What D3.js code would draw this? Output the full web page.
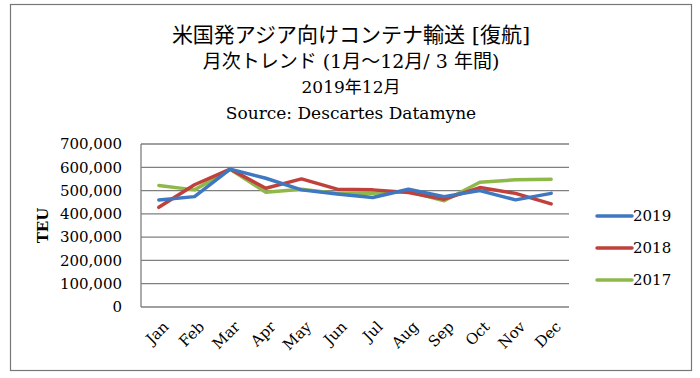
<!DOCTYPE html>
<html>
<head>
  <meta charset="utf-8">
  <style>
    body { margin: 0; background: #fff; }
    text { font-family: "DejaVu Serif", "Noto Sans CJK JP", serif; fill: #000; }
  </style>
</head>
<body>
  <script src="https://d3js.org/d3.v7.min.js"></script>
  <script>
    const months = ['Jan','Feb','Mar','Apr','May','Jun','Jul','Aug','Sep','Oct','Nov','Dec'];
    const yearNames = ['2019', '2018', '2017'];
    const v2019 = [460000, 474000, 592000, 553000, 503000, 485000, 470000, 506000, 474000, 500000, 460000, 488000];
    const v2018 = [428000, 525000, 592000, 510000, 550000, 506000, 503000, 492000, 463000, 513000, 488000, 443000];
    const v2017 = [522000, 503000, 591000, 493000, 506000, 488000, 488000, 496000, 456000, 536000, 546000, 549000];
    const yTicks = [0, 100000, 200000, 300000, 400000, 500000, 600000, 700000];
    const titleLines = ['米国発アジア向けコンテナ輸送 [復航]', '月次トレンド (1月～12月/ 3 年間)', '2019年12月', 'Source: Descartes Datamyne'];

    const series = [
      { name: yearNames[0], values: v2019, color: '#3f77c0' },
      { name: yearNames[1], values: v2018, color: '#c0413c' },
      { name: yearNames[2], values: v2017, color: '#8fb84a' }
    ];

    const width = 700, height = 378;
    const svg = d3.select('body').append('svg')
      .attr('width', width)
      .attr('height', height);

    // outer frame
    svg.append('rect')
      .attr('x', 10.5).attr('y', 4.5)
      .attr('width', 681).attr('height', 366)
      .attr('fill', 'none').attr('stroke', '#777').attr('stroke-width', 1.2);

    // title (Japanese glyphs fall back to the CJK font)
    const titleSizes = [21, 19, 17, 17];
    svg.selectAll('.title')
      .data(titleLines)
      .enter().append('text')
      .attr('x', 351)
      .attr('y', function(d, i) { return 42 + i * 25.7; })
      .attr('text-anchor', 'middle')
      .style('font-size', function(d, i) { return titleSizes[i] + 'px'; })
      .text(function(d) { return d; });

    const plot = { left: 141, right: 569, top: 144, bottom: 307 };

    const x = d3.scaleBand()
      .domain(months)
      .range([plot.left, plot.right]);

    const y = d3.scaleLinear()
      .domain([0, 700000])
      .range([plot.bottom, plot.top]);

    // gridlines
    svg.selectAll('.grid')
      .data(yTicks)
      .enter().append('line')
      .attr('x1', plot.left).attr('x2', plot.right)
      .attr('y1', function(d) { return y(d); })
      .attr('y2', function(d) { return y(d); })
      .attr('stroke', '#7f7f7f')
      .attr('stroke-width', 1.3);

    svg.append('line')
      .attr('x1', plot.left).attr('x2', plot.left)
      .attr('y1', plot.top).attr('y2', plot.bottom)
      .attr('stroke', '#7f7f7f').attr('stroke-width', 1.3);

    // y axis labels
    const fmt = d3.format(',');
    svg.selectAll('.ytick')
      .data(yTicks)
      .enter().append('text')
      .attr('x', 122)
      .attr('y', function(d) { return y(d); })
      .attr('dy', '0.35em')
      .attr('text-anchor', 'end')
      .style('font-size', '15px')
      .text(function(d) { return fmt(d); });

    svg.append('text')
      .attr('transform', 'translate(48,' + ((plot.top + plot.bottom) / 2) + ') rotate(-90)')
      .attr('text-anchor', 'middle')
      .style('font-size', '15px')
      .style('font-weight', 'bold')
      .text('TEU');

    // x axis labels
    svg.selectAll('.xtick')
      .data(months)
      .enter().append('text')
      .attr('transform', function(d) {
        return 'translate(' + (x(d) + x.bandwidth() / 2 + 7) + ',' + (plot.bottom + 17) + ') rotate(-45)';
      })
      .attr('text-anchor', 'end')
      .attr('dy', '0.35em')
      .style('font-size', '15px')
      .text(function(d) { return d; });

    // lines
    const line = d3.line()
      .x(function(d, i) { return x(months[i]) + x.bandwidth() / 2; })
      .y(function(d) { return y(d); });

    svg.selectAll('.series')
      .data(series.slice().reverse())
      .enter().append('path')
      .attr('d', function(d) { return line(d.values); })
      .attr('fill', 'none')
      .attr('stroke', function(d) { return d.color; })
      .attr('stroke-width', 3.5)
      .attr('stroke-linejoin', 'round')
      .attr('stroke-linecap', 'round');

    // legend
    const legend = svg.selectAll('.legend')
      .data(series)
      .enter().append('g')
      .attr('transform', function(d, i) { return 'translate(597,' + (216 + i * 32) + ')'; });

    legend.append('line')
      .attr('x1', 0).attr('x2', 35)
      .attr('stroke', function(d) { return d.color; })
      .attr('stroke-width', 3.5)
      .attr('stroke-linecap', 'round');

    legend.append('text')
      .attr('x', 36)
      .attr('dy', '0.35em')
      .style('font-size', '15px')
      .text(function(d) { return d.name; });
  </script>
</body>
</html>
